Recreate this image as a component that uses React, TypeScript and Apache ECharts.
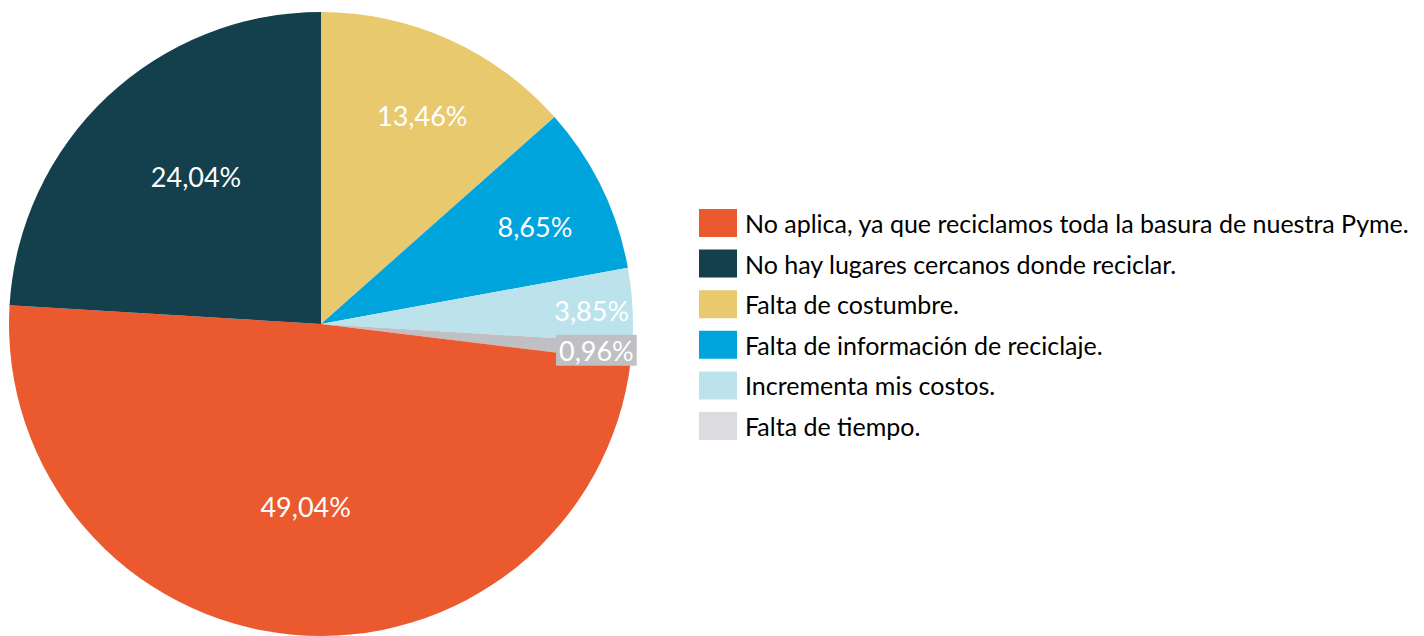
import React, { useEffect, useRef } from "react";
import * as echarts from "echarts";

const sliceNames = [
  "Falta de costumbre.",
  "Falta de información de reciclaje.",
  "Incrementa mis costos.",
  "Falta de tiempo.",
  "No aplica, ya que reciclamos toda la basura de nuestra Pyme.",
  "No hay lugares cercanos donde reciclar.",
];
const sliceValues = [13.46, 8.65, 3.85, 0.96, 49.04, 24.04];
const sliceColors = ["#E8C96E", "#00A4DC", "#BCE3EC", "#C0C0C4", "#EB5A2F", "#143F4D"];
const legendOrder = [
  "No aplica, ya que reciclamos toda la basura de nuestra Pyme.",
  "No hay lugares cercanos donde reciclar.",
  "Falta de costumbre.",
  "Falta de información de reciclaje.",
  "Incrementa mis costos.",
  "Falta de tiempo.",
];
const labelShift: [number, number][] = [
  [36, -64],
  [71, -28],
  [112, -4],
  [117, 12],
  [-1, 24],
  [-16, -32],
];

export default function App() {
  const ref = useRef<HTMLDivElement>(null);
  useEffect(() => {
    document.body.style.margin = "0";
    const chart = echarts.init(ref.current!, null, { renderer: "svg" });
    chart.setOption({
      animation: false,
      backgroundColor: "#FFFFFF",
      legend: {
        orient: "vertical",
        left: 699,
        top: 209,
        padding: 0,
        itemWidth: 38,
        itemHeight: 28,
        itemGap: 12.6,
        icon: "rect",
        selectedMode: false,
        textStyle: {
          fontFamily: "Lato",
          fontSize: 25,
          lineHeight: 28,
          color: "#000000",
          padding: [0, 0, 0, 3],
        },
        data: legendOrder.map((n) =>
          n === "Falta de tiempo." ? { name: n, itemStyle: { color: "#DCDCE0" } } : { name: n }
        ),
      },
      series: [
        {
          type: "pie",
          center: [321, 324],
          radius: 312,
          startAngle: 90,
          clockwise: true,
          avoidLabelOverlap: false,
          label: {
            show: true,
            position: "inside",
            color: "#FFFFFF",
            fontFamily: "Lato",
            fontSize: 27,
            formatter: (p: any) => p.value.toFixed(2).replace(".", ",") + "%",
          },
          labelLine: { show: false },
          labelLayout: (p: any) => ({ dx: labelShift[p.dataIndex][0], dy: labelShift[p.dataIndex][1] }),
          itemStyle: { borderWidth: 0 },
          emphasis: { disabled: true },
          data: sliceNames.map((n, i) => ({
            name: n,
            value: sliceValues[i],
            itemStyle: { color: sliceColors[i] },
            label:
              n === "Falta de tiempo."
                ? { backgroundColor: "#C0C0C4", padding: [3, 3, 1, 3] }
                : undefined,
          })),
        },
      ],
    });
    return () => chart.dispose();
  }, []);
  return <div ref={ref} style={{ position: "fixed", left: 0, top: 0, width: 1424, height: 636 }} />;
}
